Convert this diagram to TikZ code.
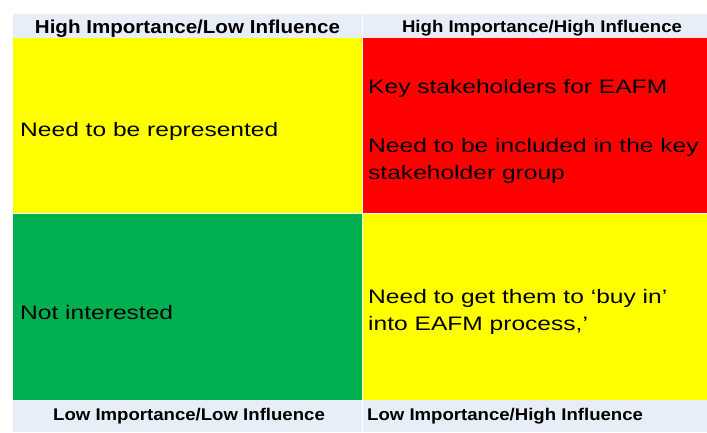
\documentclass[tikz,border=0pt]{standalone}
\usepackage{fontspec}
\setmainfont{Liberation Sans}
\newfontfamily\quadfont[FakeStretch=1.26]{Liberation Sans}
\newfontfamily\headfont[FakeStretch=1.1]{Liberation Sans}
\definecolor{bandgrey}{RGB}{232,238,247}
\definecolor{quadyellow}{RGB}{255,255,0}
\definecolor{quadred}{RGB}{255,0,0}
\definecolor{quadgreen}{RGB}{0,176,80}
\begin{document}
\begin{tikzpicture}[x=1pt, y=-1pt,
    quad/.style={font=\quadfont\fontsize{19.5}{27}\selectfont, anchor=base west, inner sep=0pt, align=left},
    head/.style={font=\headfont\bfseries\fontsize{16.9}{20}\selectfont, anchor=base, inner sep=0pt}]
    % Bands and quadrants:
    \useasboundingbox (0,0) rectangle (707,433);
    \fill[bandgrey] (13,14) rectangle (707,38);
    \fill[bandgrey] (13,400) rectangle (707,432);
    \fill[quadyellow] (13,38) rectangle (362.5,213);
    \fill[quadred] (362.5,38) rectangle (707,213);
    \fill[quadgreen] (13,213) rectangle (362.5,400);
    \fill[quadyellow] (362.5,213) rectangle (707,400);
    \draw[white, line width=0.8pt] (362.5,14) -- (362.5,432);
    \draw[white, line width=0.8pt] (13,213) -- (707,213);
    % Headings:
    \node[head, font=\headfont\bfseries\fontsize{18.7}{22}\selectfont] (hilo) at (187.5,34) {High Importance/Low Influence};
    \node[head] (hihi) at (542,32.3) {High Importance/High Influence};
    \node[head] (lolo) at (189,420.7) {Low Importance/Low Influence};
    \node[head, anchor=base west] (lohi) at (367,420) {Low Importance/High Influence};
    % Quadrant texts (base = last line):
    \node[quad] (repr) at (20,137) {Need to be represented};
    \node[quad] (keysh) at (368,93.3) {Key stakeholders for EAFM};
    \node[quad] (incl) at (368,179.5) {Need to be included in the key\\stakeholder group};
    \node[quad] (notint) at (20,319) {Not interested};
    \node[quad] (buyin) at (368,330.5) {Need to get them to ‘buy in’\\into EAFM process,’};
\end{tikzpicture}
\end{document}
